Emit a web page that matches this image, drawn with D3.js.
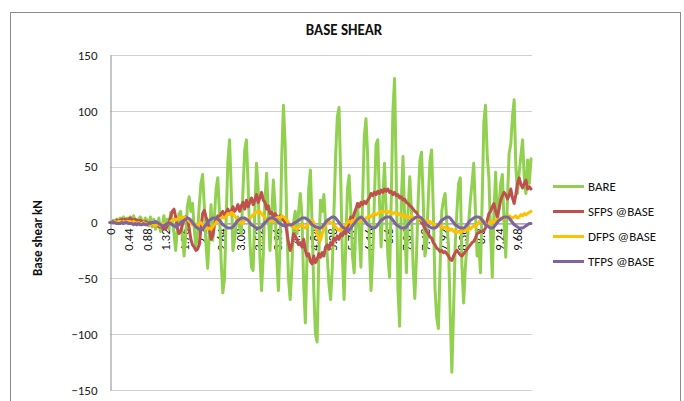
<!DOCTYPE html>
<html><head><meta charset="utf-8">
<script src="https://cdn.jsdelivr.net/npm/d3@7"></script>
<style>
html,body{margin:0;padding:0;background:#fff;}
svg text{font-family:Calibri,Carlito,"Liberation Sans",Arial,sans-serif;}
</style></head>
<body><svg id="chart" width="684" height="401"></svg>
<script>
const title = "BASE SHEAR";
const yLabel = "Base shear kN";
const seriesNames = ["BARE","SFPS @BASE","DFPS @BASE","TFPS @BASE"];
const seriesColors = ["#92D050","#C0504D","#FFC000","#8064A2"];
const timeStep = 0.04;
const tickEvery = 11;
const tickLabels = ["0","0.44","0.88","1.32","1.76","2.2","2.64","3.08","3.52","3.96","4.4","4.84","5.28","5.72","6.16","6.6","7.04","7.48","7.92","8.36","8.8","9.24","9.68"];
const yTicks = [-150,-100,-50,0,50,100,150];

const bare = [
0,1,2,1,3,2,4,3,5,2,
4,3,5,2,6,1,-2,3,5,2,
-1,4,2,-3,5,-4,3,-6,-2,4,
-8,-3,6,-5,3,-6,9,2,-10,-25,
-5,8,10,-12,-30,-10,15,23,10,17,
-5,-22,-8,15,35,43,15,-20,-41,-10,
16,-16,5,30,40,10,-35,-63,-50,5,
55,74,30,-25,-15,0,5,-5,-10,30,
65,74,35,-15,-40,-43,10,53,30,-30,
-61,-30,20,44,10,-25,5,38,15,-30,
-61,-20,60,105,70,0,-50,-69,-40,0,
10,-10,10,26,5,-55,-90,-30,30,47,
0,-60,-100,-107,-30,20,10,25,0,-30,
-55,-69,-40,10,60,95,103,40,-30,-69,
-20,30,42,10,-30,-45,0,17,-10,-40,
20,77,93,60,-20,-61,-30,20,70,74,
20,-22,20,53,10,-30,-49,20,100,129,
40,-60,-93,20,59,0,-45,10,41,10,
-40,-68,-30,20,55,63,20,-30,-20,20,
55,65,10,-60,-85,-95,-40,10,20,26,
0,-20,-80,-134,-80,-20,10,35,40,-40,
-72,-40,-20,0,20,35,53,10,-30,-20,
-45,20,90,105,60,40,-10,-49,10,45,
0,15,35,43,0,-31,20,62,70,95,
110,50,26,45,60,74,40,26,56,35,
57];

const sfps = [
0,0,1,1,2,1,2,3,2,3,
2,3,4,3,2,3,2,1,2,1,
0,1,0,-1,0,-2,-1,-3,-2,-4,
-3,-5,-4,-6,-3,0,5,10,12,5,
-5,-10,-8,-2,2,5,3,-5,-15,-20,
-22,-25,-24,-20,-5,8,11,5,0,-5,
-15,-12,-3,3,6,4,8,10,6,9,
12,8,10,14,10,12,16,10,15,18,
12,20,14,18,22,16,20,25,18,22,
27,20,18,12,15,8,9,5,8,6,
4,6,5,2,0,-8,-18,-25,-20,-10,
-12,-15,-20,-18,-22,-15,-25,-30,-28,-35,
-37,-30,-36,-33,-28,-31,-27,-30,-22,-20,
-24,-18,-20,-14,-16,-12,-15,-10,-12,-8,
-10,-5,0,5,3,8,12,17,14,18,
16,19,17,20,22,26,24,27,25,28,
26,29,27,30,28,30,27,28,25,27,
24,25,22,23,20,21,18,17,15,14,
12,10,9,6,3,0,-2,-5,-8,-10,
-13,-14,-18,-20,-23,-24,-26,-25,-27,-26,
-28,-30,-33,-34,-30,-27,-25,-27,-29,-30,
-28,-26,-24,-22,-20,-18,-17,-14,-10,-9,
-8,-8,-7,-5,2,8,10,14,17,10,
5,12,20,24,27,25,21,24,30,22,
17,25,35,40,34,31,35,38,30,32,
30];

const dfps = [
0,0,0,1,0,1,1,0,1,0,
1,1,0,0,1,0,-1,0,-1,-1,
0,-1,-2,-1,-2,-1,-2,-3,-2,-2,
-3,-2,-1,-2,-1,0,1,2,3,2,
3,4,5,4,5,4,3,1,0,-2,
-1,-3,-2,-1,0,-2,-4,-5,-6,-5,
-6,-4,-2,0,2,3,4,5,4,6,
8,7,9,8,6,4,2,0,-1,0,
2,3,2,4,5,7,8,10,9,10,
8,6,5,3,2,1,2,1,3,4,
5,4,6,5,4,2,0,-2,-4,-3,
-5,-6,-4,-3,-2,-4,-5,-3,-1,1,
2,0,-4,-10,-15,-16,-10,-5,-2,0,
1,0,-1,-2,-4,-6,-7,-5,-6,-4,
-2,0,1,0,2,1,3,2,1,2,
3,2,4,5,6,5,7,8,7,8,
9,10,9,10,10,9,10,9,8,9,
8,7,8,6,7,5,6,5,4,6,
5,4,5,3,4,2,3,1,2,0,
1,-1,-1,-2,-3,-2,-4,-3,-5,-4,
-6,-5,-7,-6,-8,-7,-9,-8,-9,-7,
-8,-6,-7,-5,-6,-4,-3,-4,-2,0,
2,3,1,-1,-3,-2,0,1,0,2,
3,2,4,3,5,4,5,6,5,4,
5,6,4,5,7,6,8,7,8,9,
10];

const tfps = [
0,0,0,0,-1,-1,-1,0,-1,0,
0,-1,-1,-1,-2,-1,-2,-1,-2,-2,
-1,-2,-2,-1,-1,0,0,1,0,-1,
-2,-3,-3,-2,-1,0,-1,-2,-3,-4,
-3,-2,0,1,2,3,4,3.5,2,0,
-2,-4,-5,-6,-7,-6,-4,-2,0,2,
3,4,4,4,3,2,0,-2,-3,-4,
-5,-5,-5,-4,-2,0,2,3,4,4,
4,3,2,0,-2,-3,-4,-5,-5,-5,
-4,-2,0,1,3,4,4,4,3,2,
0,-1,-2,-3,-3,-3,-2,-2,-2,-1,
0,1,2,3,4,4,4,3,2,0,
-2,-3,-4,-4,-5,-5,-4,-2,0,2,
3,4,5,5,4,2,0,-2,-4,-5,
-6,-7,-7,-5,-3,-1,1,3,4,5,
4,2,0,-2,-3,-4,-5,-5,-4,-2,
0,2,3,4,5,5,5,4,2,0,
-2,-3,-4,-5,-5,-5,-4,-2,0,2,
3,4,5,5,5,4,2,0,-2,-3,
-4,-5,-5,-5,-4,-2,0,2,3,4,
5,5,4,2,0,-2,-3,-4,-5,-5,
-5,-4,-2,0,2,3,4,5,5,5,
4,2,0,-2,-3,-4,-5,-5,-4,-2,
0,2,3,4,5,5,5,4,2,0,
-2,-3,-4,-5,-5,-5,-4,-3,-2,-1,
-1];

const allSeries = [bare, sfps, dfps, tfps];
const categories = d3.range(bare.length).map(i => +(i * timeStep).toFixed(2));

const svg = d3.select("#chart");
svg.append("rect").attr("x",10.5).attr("y",12.5).attr("width",670).attr("height",400)
  .attr("fill","#fff").attr("stroke","#8c8c8c").attr("stroke-width",1);

const plot = {left:110, right:531, top:55, bottom:390};
const x = d3.scaleLinear().domain([0, categories.length - 1]).range([plot.left, plot.right]);
const y = d3.scaleLinear().domain([-150, 150]).range([plot.bottom, plot.top]);

// gridlines
svg.append("g").selectAll("line").data(yTicks).join("line")
  .attr("x1", plot.left).attr("x2", plot.right + 1)
  .attr("y1", d => Math.round(y(d)) + 0.5).attr("y2", d => Math.round(y(d)) + 0.5)
  .attr("stroke", "#d0d0d0").attr("stroke-width", 1);

// y axis
const yAxis = d3.axisLeft(y).tickValues(yTicks).tickSize(0).tickPadding(13);
const gy = svg.append("g").attr("transform", `translate(${plot.left + 0.5},0)`).call(yAxis);
gy.select(".domain").attr("stroke", "#8c8c8c");
gy.selectAll("text").attr("font-size", 13).attr("fill", "#222");

// x axis at 0
const xAxis = d3.axisBottom(x)
  .tickValues(tickLabels.map((_, k) => k * tickEvery))
  .tickFormat(i => tickLabels[i / tickEvery]).tickSize(0);
const gx = svg.append("g").attr("transform", `translate(0,${Math.round(y(0)) + 0.5})`).call(xAxis);
gx.select(".domain").attr("stroke", "#8c8c8c");
gx.selectAll("text").attr("font-size", 12.5).attr("fill", "#111")
  .attr("text-anchor", "end").attr("transform", "rotate(-90)")
  .attr("x", -5).attr("y", 0).attr("dy", "0.35em");

// lines
const line = d3.line().x((d, i) => x(i)).y(d => y(d)).curve(d3.curveLinear);
allSeries.forEach((s, k) => {
  svg.append("path").datum(s).attr("d", line)
    .attr("fill", "none").attr("stroke", seriesColors[k])
    .attr("stroke-width", 3).attr("stroke-linejoin", "round").attr("stroke-linecap", "round");
});

// title
svg.append("text").attr("x", 344).attr("y", 35).attr("text-anchor", "middle")
  .attr("font-size", 15).attr("font-weight", "bold").attr("fill", "#111").text(title);

// y label
svg.append("text").attr("transform", "translate(42,238) rotate(-90)")
  .attr("text-anchor", "middle").attr("font-size", 13).attr("font-weight", "bold")
  .attr("fill", "#111").text(yLabel);

// legend
const lg = svg.append("g");
seriesNames.forEach((n, k) => {
  const yy = 186.5 + k * 25;
  lg.append("line").attr("x1", 553).attr("x2", 584).attr("y1", yy).attr("y2", yy)
    .attr("stroke", seriesColors[k]).attr("stroke-width", 3);
  lg.append("text").attr("x", 588).attr("y", yy).attr("dy", "0.35em")
    .attr("font-size", 13).attr("fill", "#111").text(n);
});
</script></body></html>
